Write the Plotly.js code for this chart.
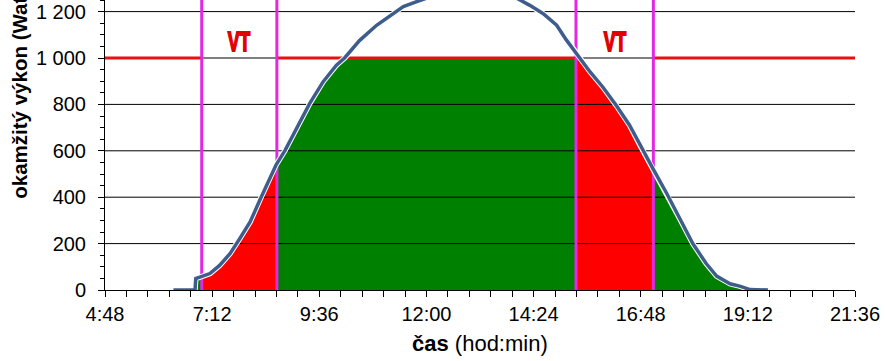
<!DOCTYPE html>
<html>
<head>
<meta charset="utf-8">
<script src="https://cdn.plot.ly/plotly-3.0.1.min.js"></script>
<style>html,body{margin:0;padding:0;background:#fff;}#chart{width:885px;height:361px;}</style>
</head>
<body>
<div id="chart"></div>
<script>
// ---- data ----
var times = ["6:20","6:49","6:50","7:00","7:09","7:22","7:36","7:49","8:03","8:16","8:30","8:38","8:50","9:05","9:23","9:41","9:59","10:10","10:30","10:53","11:11","11:29","11:47","12:00","12:20","12:45","13:10","13:35","13:59","14:19","14:37","14:55","15:08","15:22","15:40","15:57","16:15","16:33","16:47","17:05","17:23","17:41","17:58","18:16","18:30","18:48","19:01","19:15","19:39"];
var power = [0,0,49,60,71,106,157,221,293,387,480,540,602,696,803,897,969,1000,1075,1141,1180,1222,1243,1258,1285,1308,1314,1300,1262,1227,1191,1141,1078,1019,940,875,796,710,624,520,416,304,200,114,60,27,17,2,0];
var vtStart = ["6:58","15:21"];
var vtEnd   = ["8:39","17:05"];
var limitW = 1000;
var vtLabel = "VT";
var yGridValues = [200,400,600,800,1000,1200];
var axisStart = "4:48", axisEnd = "21:36";
var xTitleBold = "čas", xTitleRest = " (hod:min)";
var yTitle = "okamžitý výkon (Watt)";

// ---- helpers ----
function toMs(s){var p=s.split(":");return Date.UTC(2024,0,1,+p[0],+p[1]);}
var tx = times.map(toMs);
function interp(t){
  for(var i=0;i<tx.length-1;i++){
    if(t>=tx[i]&&t<=tx[i+1]){var f=(t-tx[i])/(tx[i+1]-tx[i]);return power[i]+f*(power[i+1]-power[i]);}
  }
  return 0;
}
function segment(a,b,cap){
  var xs=[a],ys=[interp(a)];
  for(var i=0;i<tx.length;i++){ if(tx[i]>a&&tx[i]<b){xs.push(tx[i]);ys.push(power[i]);} }
  xs.push(b);ys.push(interp(b));
  if(cap===undefined) return {x:xs,y:ys};
  var ox=[],oy=[];
  for(var j=0;j<xs.length;j++){
    if(j>0){
      var y0=ys[j-1],y1=ys[j];
      if((y0-cap)*(y1-cap)<0){var f=(cap-y0)/(y1-y0);ox.push(xs[j-1]+f*(xs[j]-xs[j-1]));oy.push(cap);}
    }
    ox.push(xs[j]);oy.push(Math.min(ys[j],cap));
  }
  return {x:ox,y:oy};
}

var x0=toMs(axisStart), x1=toMs(axisEnd);
var vs=vtStart.map(toMs), ve=vtEnd.map(toMs);
var RED='rgb(255,0,0)', GREEN='rgb(0,128,0)', LIMIT='rgb(232,16,16)', MAG='rgb(226,40,226)', CURVE='rgb(62,92,140)', VTCOL='rgb(225,0,0)';

var traces=[];
var gWin=[[tx[0],vs[0]],[ve[0],vs[1]],[ve[1],tx[tx.length-1]]];
gWin.forEach(function(w){var s=segment(w[0],w[1],limitW);
  traces.push({x:s.x,y:s.y,type:'scatter',mode:'none',fill:'tozeroy',fillcolor:GREEN,hoverinfo:'skip'});});
for(var k=0;k<vs.length;k++){var s=segment(vs[k],ve[k]);
  traces.push({x:s.x,y:s.y,type:'scatter',mode:'none',fill:'tozeroy',fillcolor:RED,hoverinfo:'skip'});}
var gx=[],gy=[];
yGridValues.forEach(function(v){gx.push(x0,x1,null);gy.push(v,v,null);});
traces.push({x:gx,y:gy,type:'scatter',mode:'lines',line:{color:'#000',width:1},hoverinfo:'skip'});
var lx=[x0,vs[0],null,ve[0],vs[1],null,ve[1],x1], ly=[limitW,limitW,null,limitW,limitW,null,limitW,limitW];
traces.push({x:lx,y:ly,type:'scatter',mode:'lines',line:{color:LIMIT,width:3},hoverinfo:'skip'});
var mx=[],my=[];
vs.concat(ve).forEach(function(t){mx.push(t,t,null);my.push(0,1250,null);});
traces.push({x:mx,y:my,type:'scatter',mode:'lines',line:{color:MAG,width:3},hoverinfo:'skip'});
traces.push({x:tx,y:power,type:'scatter',mode:'lines',line:{color:'#fff',width:5.5},hoverinfo:'skip'});
traces.push({x:tx,y:power,type:'scatter',mode:'lines',line:{color:CURVE,width:3.5},hoverinfo:'skip'});

var ann=[];
for(var k2=0;k2<vs.length;k2++){
  ann.push({x:(vs[k2]+ve[k2])/2,y:1075,xref:'x',yref:'y',text:'<b>'+vtLabel+'</b>',showarrow:false,
    font:{family:'Liberation Sans, Arial, sans-serif',size:25,color:VTCOL},xanchor:'center',yanchor:'middle'});
}
ann.push({x:0.5,y:-0.186,xref:'paper',yref:'paper',text:'<b>'+xTitleBold+'</b>'+xTitleRest,showarrow:false,
  font:{size:22,color:'#000'},xanchor:'center',yanchor:'middle'});
ann.push({x:-0.114,y:0.6855,xref:'paper',yref:'paper',text:'<b>'+yTitle+'</b>',textangle:-90,showarrow:false,
  font:{size:20.5,color:'#000'},xanchor:'center',yanchor:'middle'});

var layout={
  width:885,height:361,
  margin:{l:105,r:30,t:0,b:71,pad:0},
  paper_bgcolor:'#fff',plot_bgcolor:'#fff',
  showlegend:false,
  separators:', ',
  font:{family:'Liberation Sans, Arial, sans-serif',size:20,color:'#000'},
  xaxis:{type:'date',range:[x0,x1],tick0:'2024-01-01 04:48',dtick:144*60000,tickformat:'%-H:%M',
    ticks:'outside',ticklen:6,tickwidth:1,tickcolor:'#000',showline:true,linecolor:'#000',linewidth:1,
    showgrid:false,zeroline:false,ticklabelstandoff:0,
    minor:{dtick:28.8*60000,tick0:'2024-01-01 04:48',ticks:'outside',ticklen:6,tickcolor:'#000',showgrid:false},
    tickfont:{size:20,color:'#000'}},
  yaxis:{range:[0,1250],tick0:0,dtick:200,ticks:'outside',ticklen:6,tickwidth:1,tickcolor:'#000',
    showline:true,linecolor:'#000',linewidth:1,showgrid:false,zeroline:false,separatethousands:true,
    ticklabelstandoff:8,
    minor:{dtick:50,ticks:'outside',ticklen:4,tickcolor:'#000',showgrid:false},
    tickfont:{size:20,color:'#000'}},
  annotations:ann
};
Plotly.newPlot('chart',traces,layout,{staticPlot:true,displayModeBar:false}).then(function(gd){
  var texts=gd.querySelectorAll('.annotation-text');
  texts.forEach(function(t){
    if(t.textContent===vtLabel){
      t.style.transformBox='fill-box';
      t.style.transformOrigin='center';
      t.style.transform='scale(0.7,1.12)';
      t.style.stroke=VTCOL;
      t.style.strokeWidth='1.6px';
      t.style.strokeLinejoin='miter';
    }
  });
});
</script>
</body>
</html>
